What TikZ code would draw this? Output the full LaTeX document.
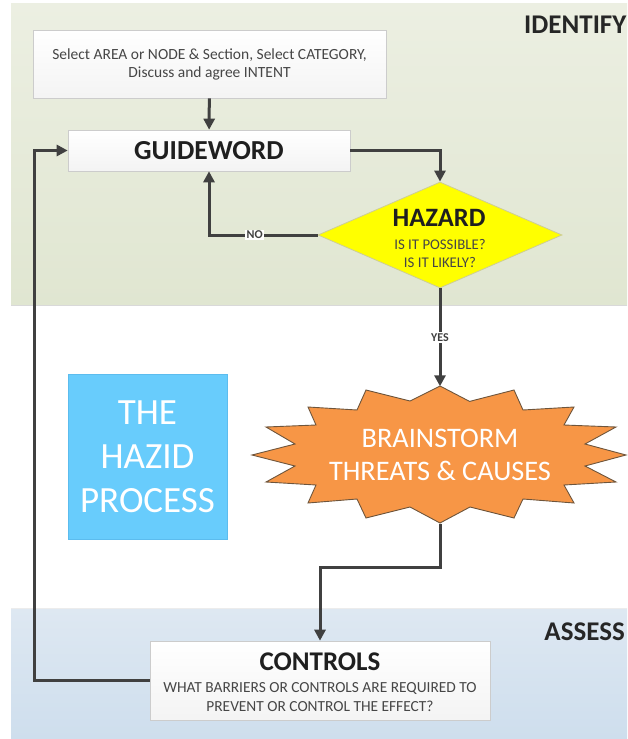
\documentclass[tikz,border=0pt]{standalone}
\usepackage{fontspec}
\setmainfont{Carlito}
\usetikzlibrary{arrows.meta,shapes.geometric,shadows,calc}

\definecolor{linegray}{RGB}{64,64,64}
\definecolor{textgray}{RGB}{70,70,70}
\definecolor{bandgreentop}{RGB}{236,239,226}
\definecolor{bandgreenbot}{RGB}{224,230,209}
\definecolor{bandbluetop}{RGB}{222,232,242}
\definecolor{bandbluebot}{RGB}{206,222,237}
\definecolor{hazidblue}{RGB}{104,204,252}
\definecolor{stormorange}{RGB}{247,150,70}
\definecolor{hazardyellow}{RGB}{255,255,0}

\tikzset{
  flowbox/.style={draw=gray!40, line width=0.6pt, top color=white, bottom color=gray!9,
    inner sep=0pt, align=center,
    drop shadow={opacity=0.18, shadow xshift=1pt, shadow yshift=-1.2pt}},
  link/.style={draw=linegray, line width=3pt, -{Triangle[length=11pt,width=11pt]}},
  tag/.style={fill=white, text=linegray, inner sep=1.2pt,
    font=\bfseries\fontsize{12}{12}\selectfont},
  bandlabel/.style={text=black!85, inner sep=0pt, font=\bfseries\fontsize{27}{27}\selectfont},
}

\begin{document}
\begin{tikzpicture}[x=1pt,y=-1pt]
\useasboundingbox (0,0) rectangle (627,739);

% phase bands
\fill[top color=bandgreentop, bottom color=bandgreenbot] (11,3) rectangle (627,305);
\draw[gray!30, line width=0.8pt] (11,305) -- (627,305);
\fill[top color=bandbluetop, bottom color=bandbluebot] (11,608) rectangle (627,739);
\draw[white!85!gray, line width=0.6pt] (11,608) -- (627,608);

\node[bandlabel, anchor=west] (identify) at (524,25) {IDENTIFY};
\node[bandlabel, anchor=east] (assess) at (625,632) {ASSESS};

% boxes of the flow
\node[flowbox, minimum width=353pt, minimum height=68pt, text=textgray,
      font=\fontsize{15.5}{18}\selectfont] (select) at (209.5,64)
  {Select AREA or NODE \& Section, Select CATEGORY,\\Discuss and agree INTENT};

\node[flowbox, minimum width=282pt, minimum height=41pt, text=black!88,
      font=\bfseries\fontsize{27.5}{27.5}\selectfont] (guide) at (209,150.5) {GUIDEWORD};

\node[diamond, draw={rgb,255:red,205;green,205;blue,150}, line width=0.8pt, fill=hazardyellow,
      minimum width=244pt, minimum height=106pt, inner sep=0pt, aspect=2.3] (hazard) at (440,235) {};
\node[text=black!88, font=\bfseries\fontsize{26.5}{26.5}\selectfont, inner sep=0pt]
  (hazardtitle) at (439,218) {HAZARD};
\node[text=textgray, align=center, font=\fontsize{14.8}{18}\selectfont, inner sep=0pt]
  (hazardsub) at (440,253) {IS IT POSSIBLE?\\IS IT LIKELY?};

\node[fill=hazidblue, draw={rgb,255:red,92;green,188;blue,238}, line width=0.6pt,
      minimum width=159pt, minimum height=165pt, inner sep=0pt, align=center, text=white,
      font=\fontsize{37}{44}\selectfont] (hazid) at (147.5,456.5) {THE\\HAZID\\PROCESS};

% brainstorm starburst
\coordinate (sc) at (440,455);
\begin{scope}[shift={(sc)}]
\fill[stormorange, draw={rgb,255:red,110;green,85;blue,60}, line width=0.9pt, line join=miter]
  (0,-69) -- (29.6,-53.6) -- (74,-65) -- (83,-45) -- (134,-48) -- (124,-30) --
  (176,-28) -- (145,-11) -- (186,0) -- (145,11) -- (176,27) -- (124,30) --
  (134,48) -- (83,44) -- (74,63) -- (30,52) -- (0,68) -- (-30,52) --
  (-74,63) -- (-83,44) -- (-132,48) -- (-124,30) -- (-174,27) -- (-145,11) --
  (-188,0) -- (-145,-11) -- (-174,-28) -- (-124,-30) -- (-132,-48) -- (-83,-45) --
  (-74,-65) -- (-30,-54) -- cycle;
\end{scope}
\node[ellipse, minimum width=374pt, minimum height=137pt, inner sep=0pt, align=center,
      text=white, font=\fontsize{28.3}{33}\selectfont] (storm) at (sc)
  {BRAINSTORM\\THREATS \& CAUSES};

\node[flowbox, minimum width=340pt, minimum height=79pt] (controls) at (320,680.5) {};
\node[text=black!88, font=\bfseries\fontsize{27}{27}\selectfont, inner sep=0pt]
  (ctrltitle) at (320,662) {CONTROLS};
\node[text=textgray, align=center, font=\fontsize{15.4}{19}\selectfont, inner sep=0pt]
  (ctrlsub) at (320,697.5) {WHAT BARRIERS OR CONTROLS ARE REQUIRED TO\\PREVENT OR CONTROL THE EFFECT?};

% connectors
\draw[link] (select) -- (guide);
\draw[link] (guide.east) -| (hazard.north);
\draw[link] (hazard.west) -| node[tag, pos=0.29] {NO} (guide.south);
\draw[link] (hazard.south) -- node[tag] {YES} (storm.north);
\draw[link] (storm.south) -- ++(0,44) -| (controls.north);
\draw[link] (controls.west) -- ++(-115,0) |- (guide.west);
\end{tikzpicture}
\end{document}
